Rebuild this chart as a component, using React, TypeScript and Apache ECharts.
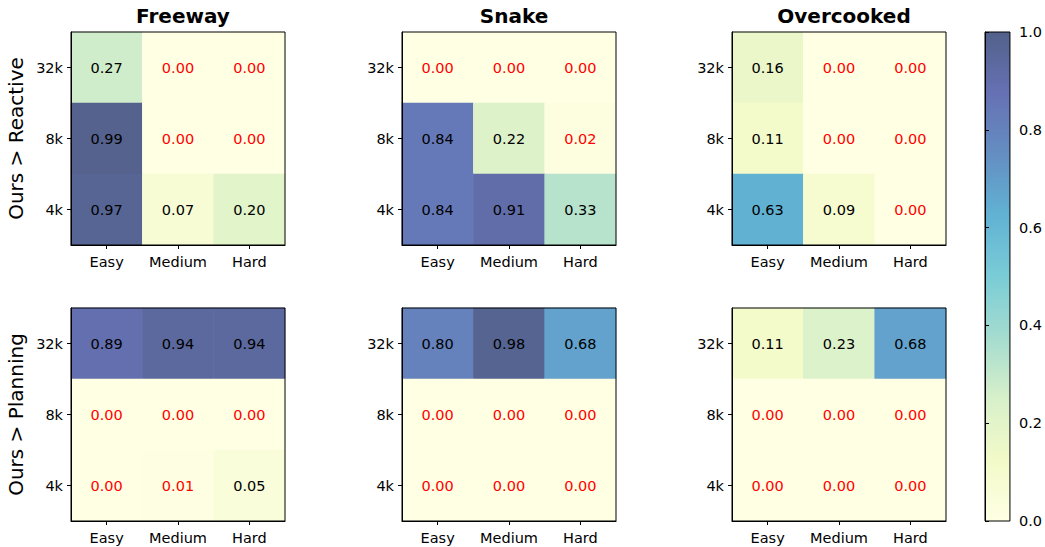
import React, { useEffect, useRef } from "react";
import * as echarts from "echarts";

// ---- data ----
const difficulties = ["Easy", "Medium", "Hard"];
const contexts = ["4k", "8k", "32k"]; // bottom -> top
const envs = ["Freeway", "Snake", "Overcooked"];
const comparisons = ["Ours > Reactive", "Ours > Planning"];

// each matrix lists rows top -> bottom: 32k, 8k, 4k ; columns Easy, Medium, Hard
const freewayReactive = [
  [0.27, 0.0, 0.0],
  [0.99, 0.0, 0.0],
  [0.97, 0.07, 0.2],
];
const snakeReactive = [
  [0.0, 0.0, 0.0],
  [0.84, 0.22, 0.02],
  [0.84, 0.91, 0.33],
];
const overcookedReactive = [
  [0.16, 0.0, 0.0],
  [0.11, 0.0, 0.0],
  [0.63, 0.09, 0.0],
];
const freewayPlanning = [
  [0.89, 0.94, 0.94],
  [0.0, 0.0, 0.0],
  [0.0, 0.01, 0.05],
];
const snakePlanning = [
  [0.8, 0.98, 0.68],
  [0.0, 0.0, 0.0],
  [0.0, 0.0, 0.0],
];
const overcookedPlanning = [
  [0.11, 0.23, 0.68],
  [0.0, 0.0, 0.0],
  [0.0, 0.0, 0.0],
];
const matrices = [
  [freewayReactive, snakeReactive, overcookedReactive],
  [freewayPlanning, snakePlanning, overcookedPlanning],
];
const redThreshold = 0.05;

// YlGnBu with alpha 0.7 over white
const palette = [
  "#ffffe4",
  "#f2fac8",
  "#d8f0ca",
  "#a5dccf",
  "#7accd6",
  "#61b2d3",
  "#648ec2",
  "#6671b4",
  "#52618a",
];

const FONT = "DejaVu Sans";
const gridLefts = [71, 402, 732];
const gridTops = [32, 308];
const GW = 214;
const GH = 213;

export default function App() {
  const ref = useRef<HTMLDivElement>(null);
  useEffect(() => {
    document.body.style.margin = "0";
    const chart = echarts.init(ref.current!, null, { renderer: "svg" });
    const grid: any[] = [];
    const xAxis: any[] = [];
    const yAxis: any[] = [];
    const series: any[] = [];
    const title: any[] = [];
    let gi = 0;
    for (let r = 0; r < 2; r++) {
      for (let c = 0; c < 3; c++) {
        grid.push({
          left: gridLefts[c],
          top: gridTops[r],
          width: GW,
          height: GH,
          show: true,
          borderColor: "#000",
          borderWidth: 1,
          backgroundColor: "transparent",
          z: 5,
        });
        xAxis.push({
          type: "category",
          gridIndex: gi,
          data: difficulties,
          axisLine: { show: true, lineStyle: { color: "#000", width: 1 } },
          axisTick: { show: true, alignWithLabel: true, interval: 0, length: 4, lineStyle: { color: "#000" } },
          axisLabel: { color: "#000", fontSize: 14.5, fontFamily: FONT, margin: 9, interval: 0 },
          splitLine: { show: false },
          z: 6,
        });
        yAxis.push({
          type: "category",
          gridIndex: gi,
          data: contexts,
          axisLine: { show: true, lineStyle: { color: "#000", width: 1 } },
          axisTick: { show: true, alignWithLabel: true, interval: 0, length: 4, lineStyle: { color: "#000" } },
          axisLabel: { color: "#000", fontSize: 14.5, fontFamily: FONT, margin: 8, interval: 0 },
          splitLine: { show: false },
          name: c === 0 ? comparisons[r] : "",
          nameLocation: "middle",
          nameRotate: 90,
          nameGap: 45,
          nameTextStyle: { color: "#000", fontSize: 20, fontFamily: FONT },
          z: 6,
        });
        const m = matrices[r][c];
        const data: any[] = [];
        m.forEach((row, ri) => {
          row.forEach((v, ci) => {
            data.push({
              value: [ci, contexts.length - 1 - ri, v],
              label: { color: v < redThreshold ? "#ff0000" : "#000000" },
            });
          });
        });
        series.push({
          type: "heatmap",
          xAxisIndex: gi,
          yAxisIndex: gi,
          data,
          label: {
            show: true,
            fontSize: 14.5,
            fontFamily: FONT,
            formatter: (p: any) => p.value[2].toFixed(2),
          },
          itemStyle: { borderWidth: 0 },
          emphasis: { disabled: true },
        });
        gi++;
      }
    }
    envs.forEach((e, c) => {
      title.push({
        text: e,
        left: gridLefts[c] + GW / 2,
        top: 1,
        textAlign: "center",
        textStyle: { fontSize: 20, fontWeight: "bold", fontFamily: FONT, color: "#000" },
      });
    });
    // colorbar
    const stops = palette.map((col, i) => ({ offset: i / (palette.length - 1), color: col }));
    grid.push({
      left: 985,
      top: 32,
      width: 25,
      height: 489,
      show: true,
      borderColor: "#000",
      borderWidth: 1,
      backgroundColor: new echarts.graphic.LinearGradient(0, 1, 0, 0, stops),
    });
    xAxis.push({ type: "value", gridIndex: gi, show: false, min: 0, max: 1 });
    yAxis.push({
      type: "value",
      gridIndex: gi,
      min: 0,
      max: 1,
      interval: 0.2,
      position: "right",
      axisLine: { show: true, lineStyle: { color: "#000" } },
      axisTick: { show: true, length: 4, lineStyle: { color: "#000" } },
      axisLabel: {
        color: "#000",
        fontSize: 14.5,
        fontFamily: FONT,
        margin: 9,
        formatter: (v: number) => v.toFixed(1),
      },
      splitLine: { show: false },
    });

    chart.setOption({
      animation: false,
      backgroundColor: "#fff",
      title,
      grid,
      xAxis,
      yAxis,
      visualMap: {
        show: false,
        type: "continuous",
        min: 0,
        max: 1,
        dimension: 2,
        seriesIndex: [0, 1, 2, 3, 4, 5],
        inRange: { color: palette },
      },
      series,
    });
    return () => chart.dispose();
  }, []);
  return <div ref={ref} style={{ width: 1045, height: 547 }} />;
}
